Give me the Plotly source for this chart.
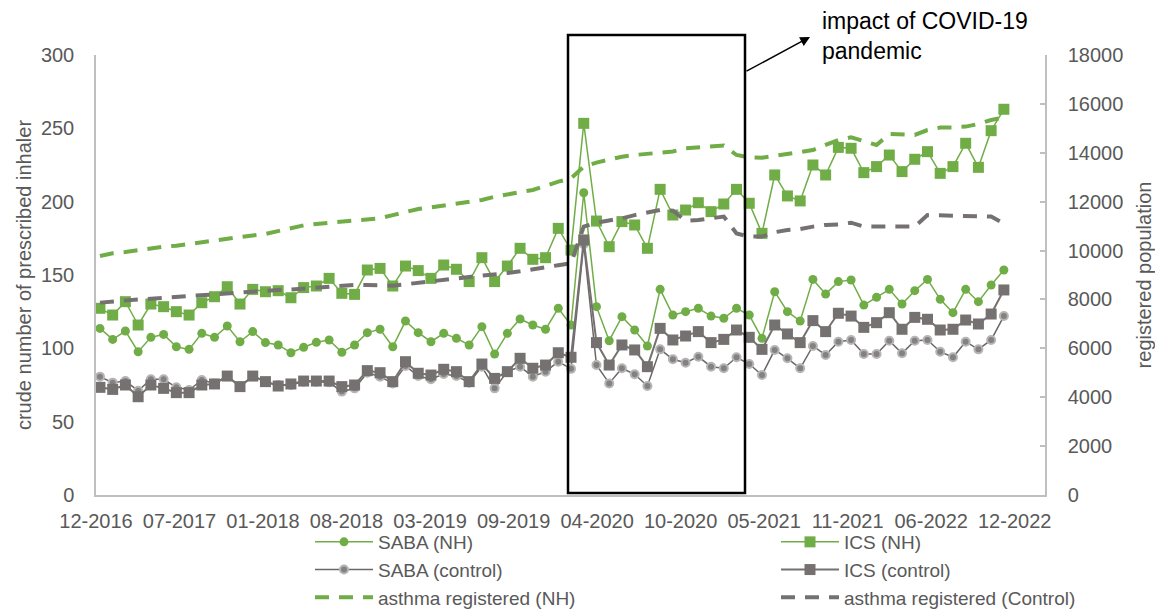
import plotly.graph_objects as go

# ---- data (monthly, 01-2017 .. 12-2022) ----
months = [f"{m:02d}-{y}" for y in range(2017, 2023) for m in range(1, 13)]

tick_labels = ["12-2016", "07-2017", "01-2018", "08-2018", "03-2019", "09-2019",
               "04-2020", "10-2020", "05-2021", "11-2021", "06-2022", "12-2022"]

saba_nh = [113.6, 106.1, 111.8, 97.7, 107.5, 109.5, 101.1, 99.3, 110.2, 107.5, 115.2, 104.5,
           111.4, 103.9, 102.3, 97.0, 100.7, 104.1, 105.7, 97.3, 102.3, 110.7, 113.0, 101.1,
           118.6, 110.7, 104.5, 110.2, 106.8, 102.3, 114.8, 96.1, 110.2, 120.0, 115.9, 113.0,
           127.3, 115.9, 206.1, 128.4, 105.2, 121.6, 112.5, 101.6, 140.2, 122.7, 125.0, 127.3,
           122.0, 120.5, 127.3, 122.7, 106.8, 138.6, 125.0, 118.6, 147.0, 137.0, 145.5, 146.6,
           129.5, 134.8, 140.2, 130.2, 139.3, 147.0, 133.4, 124.3, 140.2, 131.8, 143.2, 153.4]

ics_nh = [127.3, 122.7, 131.8, 115.9, 130.2, 128.4, 125.0, 122.7, 131.1, 135.2, 142.0, 130.2,
          140.2, 138.6, 139.3, 134.5, 141.4, 142.5, 147.7, 137.5, 136.8, 153.4, 154.5, 142.5,
          156.1, 153.0, 147.7, 156.8, 153.9, 145.5, 161.8, 145.5, 156.1, 168.2, 160.7, 161.8,
          181.8, 167.0, 253.4, 186.8, 169.3, 186.4, 184.1, 168.2, 208.4, 190.9, 194.3, 199.3,
          193.2, 198.4, 208.4, 198.9, 178.4, 218.2, 203.9, 200.5, 225.0, 218.2, 237.0, 236.4,
          219.8, 223.9, 231.8, 220.5, 228.9, 234.1, 219.3, 223.9, 239.8, 223.4, 248.4, 263.0]

saba_ctrl = [80.7, 76.6, 77.7, 71.1, 78.9, 78.9, 73.4, 71.6, 78.4, 76.1, 81.1, 73.9,
             81.1, 77.3, 75.0, 75.0, 77.3, 77.3, 76.8, 70.5, 72.7, 83.4, 80.7, 76.1,
             88.0, 81.1, 78.9, 82.5, 81.1, 76.6, 87.5, 72.7, 84.1, 87.5, 80.7, 84.1,
             90.9, 86.0, 171.0, 88.6, 76.1, 86.4, 82.3, 74.3, 99.3, 92.5, 90.2, 94.3,
             87.5, 86.4, 93.9, 89.3, 81.8, 98.9, 93.2, 86.4, 101.6, 95.5, 104.5, 105.7,
             96.1, 96.1, 105.2, 96.6, 105.2, 105.7, 97.7, 93.9, 104.5, 99.3, 105.7, 122.0]

ics_ctrl = [73.4, 72.0, 75.0, 67.0, 75.0, 72.7, 69.8, 69.8, 75.0, 75.7, 81.1, 73.9,
            81.1, 77.3, 74.3, 75.7, 77.7, 77.7, 77.7, 73.9, 75.0, 84.8, 83.4, 77.3,
            90.9, 83.0, 81.8, 85.7, 84.1, 77.3, 89.3, 79.5, 84.1, 93.2, 86.4, 88.6,
            97.0, 93.9, 173.9, 103.9, 88.6, 102.3, 98.9, 87.5, 113.6, 105.7, 108.4, 111.4,
            103.9, 106.1, 112.5, 107.5, 99.3, 115.9, 109.8, 103.9, 118.9, 111.4, 123.9, 122.0,
            114.3, 117.5, 124.3, 113.0, 121.1, 119.8, 112.5, 113.0, 119.3, 116.6, 123.4, 139.8]

asthma_nh = [9780, 9890, 9940, 10020, 10090, 10160, 10200, 10270, 10380, 10450, 10500, 10570,
             10620, 10680, 10810, 10940, 11030, 11090, 11130, 11170, 11210, 11250, 11320, 11450,
             11580, 11700, 11770, 11840, 11920, 11990, 12070, 12200, 12290, 12370, 12480, 12640,
             12820, 12950, 13430, 13600, 13730, 13840, 13910, 13950, 13980, 14050, 14180, 14210,
             14250, 14300, 13910, 13810, 13800, 13870, 13950, 14050, 14110, 14320, 14520, 14630,
             14480, 14320, 14770, 14750, 14730, 14930, 15030, 15040, 15070, 15180, 15340, 15450]

asthma_ctrl = [7870, 7920, 7980, 8000, 8030, 8070, 8110, 8140, 8180, 8220, 8250, 8290,
               8320, 8360, 8390, 8410, 8450, 8500, 8550, 8580, 8590, 8590, 8580, 8560,
               8620, 8690, 8740, 8800, 8860, 8920, 8960, 9010, 9080, 9150, 9220, 9300,
               9400, 9480, 10980, 11140, 11220, 11320, 11450, 11550, 11660, 11630, 11220, 11250,
               11320, 11390, 10700, 10570, 10570, 10750, 10840, 10880, 10980, 11050, 11070, 11140,
               10980, 10980, 11000, 11000, 10980, 11450, 11440, 11390, 11390, 11410, 11390, 11110]

x = list(range(len(months)))

GREEN = "#70AD47"
GRAY = "#767171"
AXIS = "#BFBFBF"
TXT = "#595959"
FONT = "Liberation Sans, Arial, sans-serif"

fig = go.Figure()

fig.add_trace(go.Scatter(x=x, y=saba_nh, name="SABA (NH)", mode="lines+markers",
                         line=dict(color=GREEN, width=1.5),
                         marker=dict(symbol="circle", size=9, color=GREEN)))
fig.add_trace(go.Scatter(x=x, y=ics_nh, name="ICS (NH)", mode="lines+markers",
                         line=dict(color=GREEN, width=1.5),
                         marker=dict(symbol="square", size=11, color=GREEN)))
fig.add_trace(go.Scatter(x=x, y=saba_ctrl, name="SABA (control)", mode="lines+markers",
                         line=dict(color="#6B6767", width=1.5),
                         marker=dict(symbol="circle", size=8, color="#858181",
                                     line=dict(color="#B5B5B5", width=2))))
fig.add_trace(go.Scatter(x=x, y=ics_ctrl, name="ICS (control)", mode="lines+markers",
                         line=dict(color=GRAY, width=2),
                         marker=dict(symbol="square", size=11, color=GRAY)))
fig.add_trace(go.Scatter(x=x, y=asthma_nh, name="asthma registered (NH)", mode="lines",
                         yaxis="y2", line=dict(color=GREEN, width=4, dash="14px,10px")))
fig.add_trace(go.Scatter(x=x, y=asthma_ctrl, name="asthma registered (Control)", mode="lines",
                         yaxis="y2", line=dict(color=GRAY, width=4, dash="14px,10px")))

# the page body adds an 8px offset; screen plot area is x 96..1045, y 55..495
OFF = 8
SX0, SX1, SY0, SY1 = 96, 1045, 55, 495
W, H = 1163 - OFF, 609 - OFF
L, T = SX0 - OFF, SY0 - OFF
R, B = W - (SX1 - OFF), H - (SY1 - OFF)
pw, ph = SX1 - SX0, SY1 - SY0

def px(xs):
    return (xs - SX0) / pw

def py(ys):
    return (SY1 - ys) / ph

n_ticks = len(tick_labels)
first_tick, step_tick = -0.31, 6.56
tickvals = [first_tick + step_tick * k for k in range(n_ticks)]

fig.update_layout(
    width=W, height=H,
    margin=dict(l=L, r=R, t=T, b=B, autoexpand=False),
    paper_bgcolor="white", plot_bgcolor="white",
    font=dict(family=FONT, size=20, color=TXT),
    showlegend=True,
    legend=dict(orientation="h", x=px(310), xanchor="left", y=py(523), yanchor="top",
                font=dict(size=19, color=TXT), itemwidth=58,
                entrywidth=393, entrywidthmode="pixels",
                bgcolor="rgba(0,0,0,0)"),
    xaxis=dict(range=[-0.31, 74.23], showline=True, linecolor=AXIS, linewidth=1.5,
               showgrid=False, zeroline=False, tickvals=tickvals, ticktext=tick_labels,
               ticks="", tickfont=dict(size=20, color=TXT), ticklabelstandoff=7),
    yaxis=dict(range=[0, 300], tickvals=[0, 50, 100, 150, 200, 250, 300],
               showline=True, linecolor=AXIS, linewidth=1.5, showgrid=False, zeroline=False,
               ticks="", tickfont=dict(size=20, color=TXT), ticklabelstandoff=16,
               title=dict(text="crude number of prescribed inhaler", standoff=4,
                          font=dict(size=20, color=TXT))),
    yaxis2=dict(range=[0, 18000], dtick=2000, tickformat="d", overlaying="y", side="right",
                showline=True, linecolor=AXIS, linewidth=1.5, showgrid=False, zeroline=False,
                ticks="inside", ticklen=5, tickcolor=AXIS, tickwidth=1.5,
                tickfont=dict(size=20, color=TXT), ticklabelstandoff=17,
                title=dict(text="registered population", standoff=15,
                           font=dict(size=20, color=TXT))),
)

# highlight box
fig.add_shape(type="rect", xref="paper", yref="paper",
              x0=px(568), x1=px(745), y0=py(493), y1=py(35),
              line=dict(color="black", width=2.5), fillcolor="rgba(0,0,0,0)")

# arrow
fig.add_annotation(xref="paper", yref="paper", x=px(810), y=py(37), text="",
                   showarrow=True, ax=-65, ay=35, arrowhead=2, arrowsize=1.3,
                   arrowwidth=1.5, arrowcolor="black")
fig.add_annotation(xref="paper", yref="paper", x=px(820), y=py(36), xanchor="left",
                   yanchor="middle", align="left", showarrow=False,
                   text="impact of COVID-19<br>pandemic",
                   font=dict(family=FONT, size=23, color="black"))

fig.write_html("out.html")
